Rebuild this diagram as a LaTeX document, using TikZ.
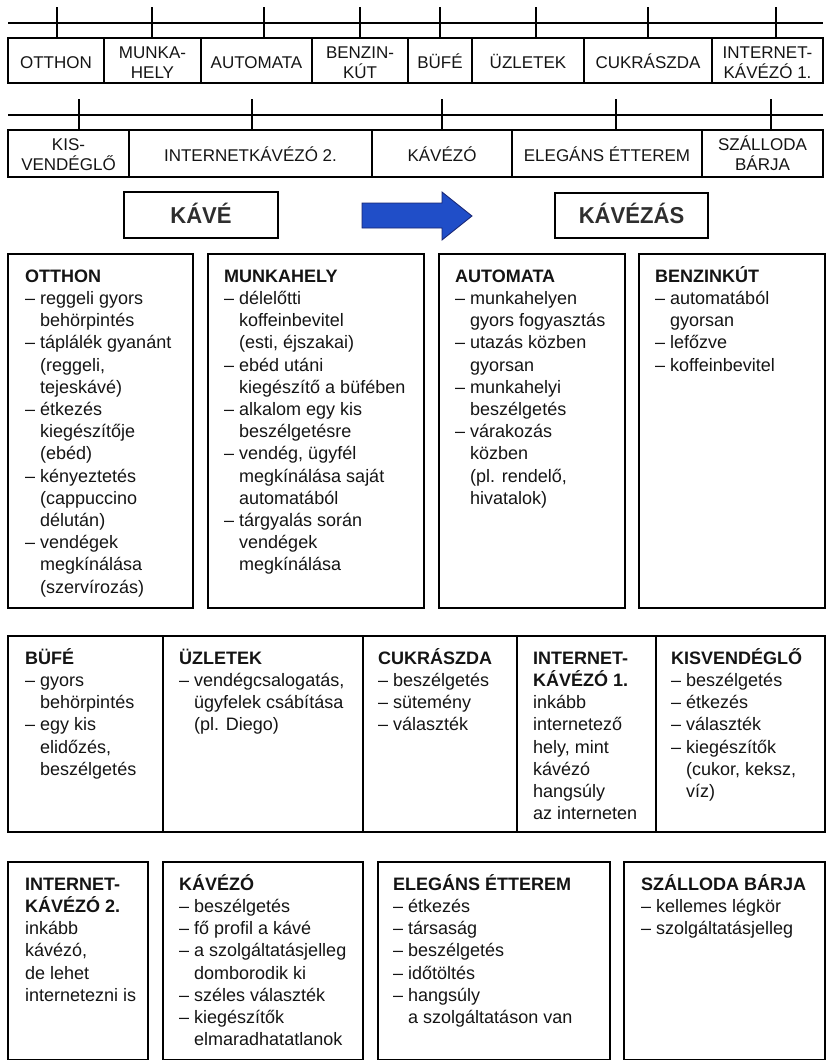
\documentclass[tikz,border=0pt]{standalone}
\usepackage{fontspec}
\setmainfont{Liberation Sans}
\newfontfamily\bigfont{Liberation Sans Bold}[FakeStretch=0.96]
\definecolor{arrowblue}{RGB}{32,78,200}
\definecolor{arrowedge}{RGB}{24,36,112}
\definecolor{ink}{RGB}{20,20,20}
% strut fixing the first baseline below a node's top edge
\newcommand\hdrstrut{\rule{0pt}{16pt}}
\newcommand\bodystrut{\rule{0pt}{20pt}}
% hanging indent for continuation lines of a dash item
\newcommand\ind{\hphantom{–\ }}
\begin{document}
\begin{tikzpicture}[x=1pt,y=-1pt,
  cell/.style={draw=black,line width=1.4pt,inner sep=0pt,outer sep=0pt,anchor=north west},
  box/.style={draw=black,line width=1.4pt,inner sep=0pt,outer sep=0pt,anchor=north west},
  rail/.style={line width=1.4pt},
  tick/.style={line width=1.2pt},
  hdr/.style={anchor=north,inner sep=0pt,align=center,text=ink,font=\fontsize{17}{20}\selectfont},
  txt/.style={anchor=north west,inner sep=0pt,align=left,text=ink,font=\fontsize{18}{22.2}\selectfont},
  bigbox/.style={draw=black,line width=1.4pt,inner sep=0pt,outer sep=0pt,anchor=north west,
    text=black!82,font=\bigfont\fontsize{23}{26}\selectfont,text height=16.5pt,text depth=0pt}]
\useasboundingbox (0,0) rectangle (827,1060);

% ---------- first index row ----------
\coordinate (r1a) at (8,23);
\coordinate (r1b) at (823,23);
\draw[rail] (r1a) -- (r1b);
\node[cell,minimum width=96,minimum height=45]  (a1) at (8,38) {};
\node[cell,minimum width=97,minimum height=45]  (a2) at (104,38) {};
\node[cell,minimum width=111,minimum height=45] (a3) at (201,38) {};
\node[cell,minimum width=96,minimum height=45]  (a4) at (312,38) {};
\node[cell,minimum width=64,minimum height=45]  (a5) at (408,38) {};
\node[cell,minimum width=112,minimum height=45] (a6) at (472,38) {};
\node[cell,minimum width=128,minimum height=45] (a7) at (584,38) {};
\node[cell,minimum width=111,minimum height=45] (a8) at (712,38) {};
\foreach \n/\x in {1/57,2/152,3/264,4/360,5/440,6/536,7/648,8/776}{
  \coordinate (ta\n) at (\x,7);
  \draw[tick] (ta\n) -- (ta\n |- a\n.north);
}
\node[hdr] (la1) at (56,52)    {\hdrstrut OTTHON};
\node[hdr] (la2) at (152.5,42) {\hdrstrut MUNKA-\\HELY};
\node[hdr] (la3) at (256.5,52) {\hdrstrut AUTOMATA};
\node[hdr] (la4) at (360,42)   {\hdrstrut BENZIN-\\KÚT};
\node[hdr] (la5) at (440,52)   {\hdrstrut BÜFÉ};
\node[hdr] (la6) at (528,52)   {\hdrstrut ÜZLETEK};
\node[hdr] (la7) at (648,52)   {\hdrstrut CUKRÁSZDA};
\node[hdr] (la8) at (767.5,42) {\hdrstrut INTERNET-\\KÁVÉZÓ 1.};

% ---------- second index row ----------
\coordinate (r2a) at (8,115);
\coordinate (r2b) at (823,115);
\draw[rail] (r2a) -- (r2b);
\node[cell,minimum width=121,minimum height=47] (b1) at (8,130) {};
\node[cell,minimum width=243,minimum height=47] (b2) at (129,130) {};
\node[cell,minimum width=140,minimum height=47] (b3) at (372,130) {};
\node[cell,minimum width=190,minimum height=47] (b4) at (512,130) {};
\node[cell,minimum width=121,minimum height=47] (b5) at (702,130) {};
\foreach \n/\x in {1/79,2/252,3/442,4/616,5/771}{
  \coordinate (tb\n) at (\x,99);
  \draw[tick] (tb\n) -- (tb\n |- b\n.north);
}
\node[hdr] (lb1) at (68.5,134)  {\hdrstrut KIS-\\VENDÉGLŐ};
\node[hdr] (lb2) at (250.5,145) {\hdrstrut INTERNETKÁVÉZÓ 2.};
\node[hdr] (lb3) at (442,145)   {\hdrstrut KÁVÉZÓ};
\node[hdr] (lb4) at (607,145)   {\hdrstrut ELEGÁNS ÉTTEREM};
\node[hdr] (lb5) at (762.5,134) {\hdrstrut SZÁLLODA\\BÁRJA};

% ---------- coffee -> coffee drinking ----------
\node[bigbox,minimum width=154,minimum height=46] (kave) at (124,192) {KÁVÉ};
\node[bigbox,minimum width=153,minimum height=45] (kavezas) at (555,193) {KÁVÉZÁS};
\draw[fill=arrowblue,draw=arrowedge,line width=0.8pt,line join=miter]
  (362,203) -- (442,203) -- (442,192) -- (472,216) -- (442,240) -- (442,228) -- (362,228) -- cycle;

% ---------- first row of description boxes ----------
\node[box,minimum width=185,minimum height=354] (otthon)   at (8,254) {};
\node[box,minimum width=216,minimum height=354] (munka)    at (208,254) {};
\node[box,minimum width=186,minimum height=354] (automata) at (439,254) {};
\node[box,minimum width=186,minimum height=354] (benzin)   at (639,254) {};

\node[txt] (otthonT) at ([shift={(17pt,-8pt)}]otthon.north west) {\bodystrut\textbf{OTTHON}\\
–\ reggeli gyors\\ \ind behörpintés\\
–\ táplálék gyanánt\\ \ind (reggeli,\\ \ind tejeskávé)\\
–\ étkezés\\ \ind kiegészítője\\ \ind (ebéd)\\
–\ kényeztetés\\ \ind (cappuccino\\ \ind délután)\\
–\ vendégek\\ \ind megkínálása\\ \ind (szervírozás)};

\node[txt] (munkaT) at ([shift={(16pt,-8pt)}]munka.north west) {\bodystrut\textbf{MUNKAHELY}\\
–\ délelőtti\\ \ind koffeinbevitel\\ \ind (esti, éjszakai)\\
–\ ebéd utáni\\ \ind kiegészítő a büfében\\
–\ alkalom egy kis\\ \ind beszélgetésre\\
–\ vendég, ügyfél\\ \ind megkínálása saját\\ \ind automatából\\
–\ tárgyalás során\\ \ind vendégek\\ \ind megkínálása};

\node[txt] (automataT) at ([shift={(16pt,-8pt)}]automata.north west) {\bodystrut\textbf{AUTOMATA}\\
–\ munkahelyen\\ \ind gyors fogyasztás\\
–\ utazás közben\\ \ind gyorsan\\
–\ munkahelyi\\ \ind beszélgetés\\
–\ várakozás\\ \ind közben\\ \ind (pl. rendelő,\\ \ind hivatalok)};

\node[txt] (benzinT) at ([shift={(16pt,-8pt)}]benzin.north west) {\bodystrut\textbf{BENZINKÚT}\\
–\ automatából\\ \ind gyorsan\\
–\ lefőzve\\
–\ koffeinbevitel};

% ---------- second row of description boxes ----------
\node[box,minimum width=155,minimum height=196] (bufe)   at (8,636) {};
\node[box,minimum width=200,minimum height=196] (uzlet)  at (163,636) {};
\node[box,minimum width=154,minimum height=196] (cukr)   at (363,636) {};
\node[box,minimum width=139,minimum height=196] (inet1)  at (517,636) {};
\node[box,minimum width=169,minimum height=196] (kisv)   at (656,636) {};

\node[txt] (bufeT) at ([shift={(17pt,-8pt)}]bufe.north west) {\bodystrut\textbf{BÜFÉ}\\
–\ gyors\\ \ind behörpintés\\
–\ egy kis\\ \ind elidőzés,\\ \ind beszélgetés};

\node[txt] (uzletT) at ([shift={(16pt,-8pt)}]uzlet.north west) {\bodystrut\textbf{ÜZLETEK}\\
–\ vendégcsalogatás,\\ \ind ügyfelek csábítása\\ \ind (pl. Diego)};

\node[txt] (cukrT) at ([shift={(15pt,-8pt)}]cukr.north west) {\bodystrut\textbf{CUKRÁSZDA}\\
–\ beszélgetés\\
–\ sütemény\\
–\ választék};

\node[txt] (inet1T) at ([shift={(16pt,-8pt)}]inet1.north west) {\bodystrut\textbf{INTERNET-}\\
\textbf{KÁVÉZÓ 1.}\\ inkább\\ internetező\\ hely, mint\\ kávézó\\ hangsúly\\ az interneten};

\node[txt] (kisvT) at ([shift={(15pt,-8pt)}]kisv.north west) {\bodystrut\textbf{KISVENDÉGLŐ}\\
–\ beszélgetés\\
–\ étkezés\\
–\ választék\\
–\ kiegészítők\\ \ind (cukor, keksz,\\ \ind víz)};

% ---------- third row of description boxes ----------
\node[box,minimum width=140,minimum height=198] (inet2)    at (8,862) {};
\node[box,minimum width=200,minimum height=198] (kavezo)   at (163,862) {};
\node[box,minimum width=232,minimum height=198] (elegans)  at (378,862) {};
\node[box,minimum width=201,minimum height=198] (szalloda) at (624,862) {};

\node[txt] (inet2T) at ([shift={(17pt,-8pt)}]inet2.north west) {\bodystrut\textbf{INTERNET-}\\
\textbf{KÁVÉZÓ 2.}\\ inkább\\ kávézó,\\ de lehet\\ internetezni is};

\node[txt] (kavezoT) at ([shift={(16pt,-8pt)}]kavezo.north west) {\bodystrut\textbf{KÁVÉZÓ}\\
–\ beszélgetés\\
–\ fő profil a kávé\\
–\ a szolgáltatásjelleg\\ \ind domborodik ki\\
–\ széles választék\\
–\ kiegészítők\\ \ind elmaradhatatlanok};

\node[txt] (elegansT) at ([shift={(15pt,-8pt)}]elegans.north west) {\bodystrut\textbf{ELEGÁNS ÉTTEREM}\\
–\ étkezés\\
–\ társaság\\
–\ beszélgetés\\
–\ időtöltés\\
–\ hangsúly\\ \ind a szolgáltatáson van};

\node[txt] (szallodaT) at ([shift={(17pt,-8pt)}]szalloda.north west) {\bodystrut\textbf{SZÁLLODA BÁRJA}\\
–\ kellemes légkör\\
–\ szolgáltatásjelleg};
\end{tikzpicture}
\end{document}
